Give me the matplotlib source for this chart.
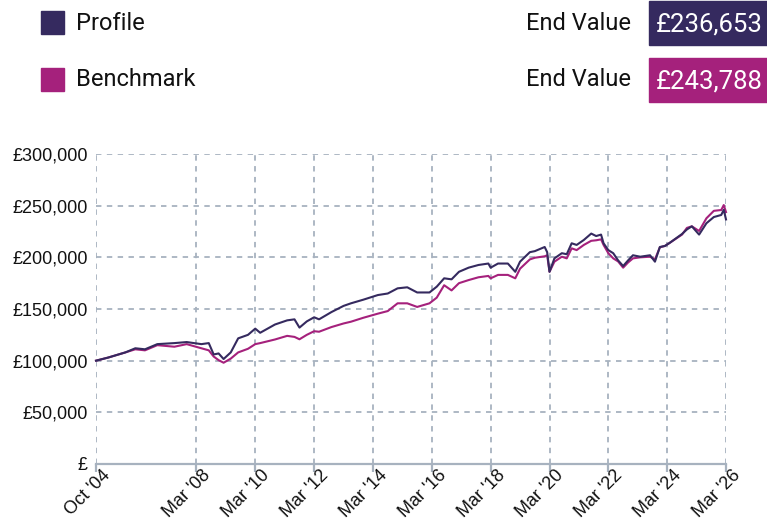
import pandas as pd
import matplotlib.pyplot as plt
from matplotlib.patches import Rectangle
from matplotlib.ticker import FuncFormatter

plt.rcParams["font.family"] = ["Liberation Sans", "DejaVu Sans"]

# Month-end readings of both series (values in £)
dates = ["2004-10", "2005-03", "2005-10", "2006-02", "2006-06", "2006-11", "2007-06", "2007-11",
         "2008-05", "2008-08", "2008-10", "2008-12", "2009-02", "2009-05", "2009-08", "2009-12",
         "2010-03", "2010-05", "2010-11", "2011-04", "2011-07", "2011-09", "2011-12", "2012-03",
         "2012-05", "2012-10", "2013-03", "2013-06", "2013-11", "2014-05", "2014-09", "2015-01",
         "2015-05", "2015-09", "2016-02", "2016-05", "2016-08", "2016-11", "2017-02", "2017-06",
         "2017-10", "2018-02", "2018-03", "2018-06", "2018-10", "2019-01", "2019-03", "2019-07",
         "2019-09", "2020-01", "2020-02", "2020-03", "2020-05", "2020-08", "2020-10", "2020-12",
         "2021-02", "2021-05", "2021-08", "2021-10", "2021-12", "2022-01", "2022-03", "2022-05",
         "2022-07", "2022-09", "2022-11", "2023-01", "2023-04", "2023-08", "2023-10", "2023-12",
         "2024-02", "2024-04", "2024-09", "2024-11", "2025-01", "2025-04", "2025-07", "2025-10",
         "2026-01", "2026-02", "2026-03"]

profile = [100000, 103000, 108000, 112000, 111000, 116000, 117000, 118000,
           116000, 117000, 106000, 107000, 101600, 108000, 121600, 125000,
           131000, 127000, 135000, 139000, 140000, 132000, 138000, 142000,
           140000, 147000, 153000, 155500, 159000, 163500, 165000, 170000,
           171000, 166000, 166000, 171600, 179700, 178700, 186000, 190000,
           192600, 194000, 190000, 194000, 194000, 186000, 195800, 205000,
           206000, 210000, 205000, 186000, 199000, 204000, 203000, 213600,
           212000, 216800, 223000, 220600, 222000, 213600, 207000, 204000,
           197000, 191600, 197000, 202000, 200600, 202000, 195800, 210000,
           211000, 214000, 222600, 227000, 230000, 222000, 233000, 239000,
           241000, 246000, 236653]

benchmark = [100000, 103000, 108000, 111000, 110000, 115000, 113500, 116000,
             112000, 110000, 104000, 100500, 98000, 102000, 108000, 111500,
             116000, 117000, 120500, 124000, 123000, 120700, 125000, 128500,
             128000, 132500, 136000, 137700, 141500, 145500, 148000, 155500,
             155500, 152000, 155500, 161000, 173000, 168000, 175000, 178000,
             180700, 182000, 179700, 183000, 183000, 179700, 189000, 198000,
             199600, 201000, 202000, 186000, 195800, 200600, 199000, 208700,
             207000, 212000, 216000, 216500, 217400, 212000, 204000, 199000,
             196000, 190000, 195000, 199000, 200000, 200600, 198000, 209700,
             211000, 214000, 222000, 228500, 230000, 225500, 237800, 245000,
             245800, 250600, 243788]

tick_dates = ["2004-10", "2008-03", "2010-03", "2012-03", "2014-03", "2016-03",
              "2018-03", "2020-03", "2022-03", "2024-03", "2026-03"]
tick_labels = ["Oct '04", "Mar '08", "Mar '10", "Mar '12", "Mar '14", "Mar '16",
               "Mar '18", "Mar '20", "Mar '22", "Mar '24", "Mar '26"]

profile_color = "#352a5f"
bench_color = "#a5217c"
grid_color = "#a7b2bf"

W, H = 767, 520
fig = plt.figure(figsize=(W / 100, H / 100), dpi=100)

x = pd.to_datetime(dates)
ticks = pd.to_datetime(tick_dates)

ax = fig.add_axes([96 / W, 1 - 464 / H, 630 / W, 310 / H])
ax.plot(x, profile, color=profile_color, lw=1.5, zorder=3, clip_on=False)
ax.plot(x, benchmark, color=bench_color, lw=1.5, zorder=2, clip_on=False)

ax.set_xlim(ticks[0], ticks[-1])
ax.set_ylim(0, 300000)
ax.set_yticks(range(0, 300001, 50000))
ax.yaxis.set_major_formatter(FuncFormatter(lambda v, p: "£" if v == 0 else f"£{v:,.0f}"))
ax.set_xticks(ticks)
ax.set_xticklabels([])
# rotated date labels, end of text just right of the tick
for t, lab in zip(ticks, tick_labels):
    ax.annotate(lab, xy=(t, 0), xycoords=("data", "axes fraction"), xytext=(8.5, -6.5),
                textcoords="offset points", rotation=45, ha="right", va="center",
                rotation_mode="anchor", fontsize=13, color="#111111")

ax.grid(True, color=grid_color, ls=(0, (3, 3)), lw=1.3)
for s in ["top", "right", "left"]:
    ax.spines[s].set_visible(False)
ax.spines["bottom"].set_color(grid_color)
ax.spines["bottom"].set_linewidth(1.6)
ax.tick_params(axis="y", length=0, pad=6, labelsize=13, labelcolor="#111111")
ax.tick_params(axis="x", length=6, width=1.6, color=grid_color)


def px(xp, yp):
    return xp / W, 1 - yp / H


# header: legend squares and end-value boxes
head_font = "Roboto"
for yc, name, col, val in [(23, "Profile", profile_color, profile[-1]),
                           (80, "Benchmark", bench_color, benchmark[-1])]:
    fig.patches.append(Rectangle(px(41, yc + 11), 23 / W, 23 / H, color=col,
                                 transform=fig.transFigure))
    fig.text(*px(76, yc), name, fontsize=17, family=head_font, va="center", color="#111111")
    fig.text(*px(631, yc), "End Value", fontsize=17, family=head_font, va="center",
             ha="right", color="#111111")
    fig.patches.append(Rectangle(px(649, yc + 21.5), 120 / W, 43 / H, color=col,
                                 transform=fig.transFigure))
    fig.text(*px(709, yc + 1), f"£{val:,.0f}", fontsize=18.5, family=head_font, va="center",
             ha="center", color="white")

fig.savefig("out.png", dpi=100)
